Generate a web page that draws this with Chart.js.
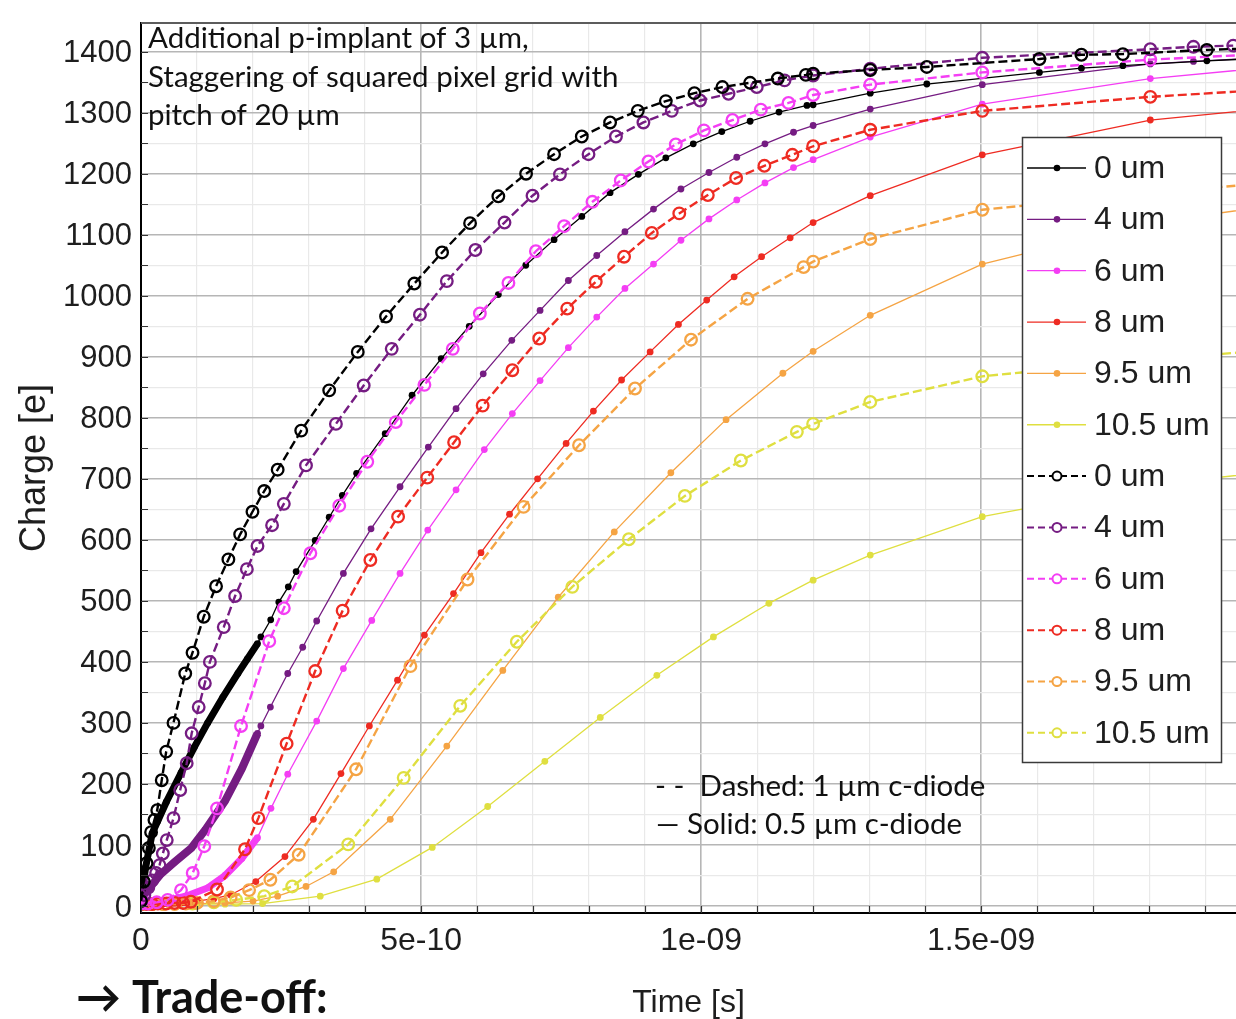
<!DOCTYPE html>
<html>
<head>
<meta charset="utf-8">
<script src="https://cdn.jsdelivr.net/npm/chart.js@4.4.1/dist/chart.umd.min.js"></script>
<style>
  html, body { margin: 0; padding: 0; background: #ffffff; overflow: hidden; }
  #wrap { position: relative; width: 1236px; height: 1019px; }
</style>
</head>
<body>
<div id="wrap"><canvas id="chart"></canvas></div>
<script>
// Collected charge vs. time. Times are in ns (axis labels are shown in seconds), charge in e.
// Solid: 0.5 um c-diode, dashed: 1 um c-diode; one curve per distance from the collection diode.

const seriesLabels = ['0 um', '4 um', '6 um', '8 um', '9.5 um', '10.5 um'];
const seriesColors = ['#000000', '#751c82', '#f43ef4', '#ee2b22', '#f5a444', '#dfdf40'];

// ---- solid curves (0.5 um c-diode) ----
const tSolid0 = [0, 0.008, 0.02, 0.045, 0.0714, 0.095, 0.119, 0.146, 0.173, 0.19, 0.208, 0.214, 0.2316, 0.246, 0.263, 0.277, 0.311, 0.336, 0.3595, 0.385, 0.436, 0.484, 0.536, 0.586, 0.638, 0.687, 0.7375, 0.787, 0.8375, 0.888, 0.937, 0.986, 1.037, 1.0875, 1.139, 1.189, 1.2, 1.302, 1.403, 1.604, 1.679, 1.753, 1.903, 2.0];
const qSolid0 = [10, 62, 119, 170, 218, 260, 300, 342, 381, 405, 430, 441, 469, 498, 523, 548, 599, 637, 673, 709, 774, 837, 897, 950, 1002, 1050, 1092, 1130, 1169, 1199, 1226, 1249, 1269, 1286, 1301, 1312, 1313, 1332, 1347, 1366, 1373, 1377, 1385, 1389];

const tSolid4 = [0, 0.02, 0.035, 0.06, 0.09, 0.115, 0.15, 0.18, 0.208, 0.214, 0.231, 0.262, 0.2887, 0.3137, 0.3613, 0.4107, 0.4625, 0.513, 0.5625, 0.611, 0.662, 0.7125, 0.763, 0.8137, 0.864, 0.915, 0.964, 1.014, 1.0637, 1.114, 1.165, 1.2, 1.302, 1.502, 1.802, 1.879, 2.0];
const qSolid4 = [12, 35, 52, 72, 95, 125, 172, 225, 283, 295, 326, 381, 424, 467, 545, 618, 687, 752, 815, 872, 927, 976, 1025, 1066, 1105, 1142, 1175, 1202, 1227, 1249, 1268, 1279, 1306, 1346, 1380, 1384, 1390];

const tSolid6 = [0, 0.04, 0.08, 0.12, 0.15, 0.18, 0.208, 0.232, 0.262, 0.3137, 0.3613, 0.412, 0.4625, 0.512, 0.5625, 0.613, 0.663, 0.7125, 0.763, 0.8137, 0.864, 0.915, 0.964, 1.014, 1.0637, 1.114, 1.165, 1.2, 1.302, 1.502, 1.802, 2.0];
const qSolid6 = [3, 8, 16, 30, 50, 78, 112, 160, 216, 303, 389, 468, 545, 616, 682, 748, 807, 861, 915, 965, 1012, 1052, 1091, 1126, 1157, 1185, 1210, 1223, 1260, 1314, 1356, 1373];

const tSolid8 = [0, 0.02, 0.04, 0.06, 0.08, 0.1, 0.13, 0.16, 0.205, 0.257, 0.3077, 0.357, 0.4077, 0.458, 0.506, 0.558, 0.607, 0.658, 0.708, 0.759, 0.8077, 0.858, 0.909, 0.9595, 1.01, 1.059, 1.108, 1.159, 1.2, 1.302, 1.502, 1.802, 2.0];
const qSolid8 = [3, 4, 4, 5, 6, 8, 12, 18, 40, 81, 142, 217, 295, 370, 444, 512, 579, 642, 700, 758, 811, 862, 908, 953, 993, 1031, 1064, 1095, 1120, 1164, 1231, 1288, 1306];

const tSolid95 = [0, 0.05, 0.1, 0.15, 0.2, 0.244, 0.2946, 0.344, 0.445, 0.546, 0.646, 0.745, 0.845, 0.946, 1.0446, 1.146, 1.2, 1.302, 1.502, 1.802, 2.0];
const qSolid95 = [2, 3, 4, 5, 8, 16, 32, 56, 142, 262, 386, 506, 613, 710, 797, 873, 909, 968, 1052, 1120, 1145];

const tSolid105 = [0, 0.05, 0.1, 0.15, 0.217, 0.32, 0.421, 0.52, 0.619, 0.721, 0.82, 0.921, 1.022, 1.121, 1.2, 1.302, 1.502, 1.802, 2.0];
const qSolid105 = [2, 2, 3, 3, 4, 16, 44, 96, 163, 237, 309, 378, 441, 496, 534, 575, 638, 690, 710];

// ---- dashed curves (1 um c-diode) ----
const tDash0 = [0, 0.005, 0.01, 0.014, 0.018, 0.024, 0.029, 0.037, 0.045, 0.058, 0.079, 0.092, 0.112, 0.134, 0.156, 0.177, 0.199, 0.22, 0.244, 0.286, 0.336, 0.387, 0.4375, 0.488, 0.5375, 0.5875, 0.638, 0.6875, 0.7375, 0.787, 0.8375, 0.887, 0.937, 0.988, 1.038, 1.0875, 1.137, 1.187, 1.2, 1.302, 1.403, 1.604, 1.679, 1.753, 1.903, 2.0];
const qDash0 = [8, 40, 70, 95, 121, 141, 157, 206, 253, 300, 381, 415, 474, 524, 568, 609, 646, 680, 715, 779, 845, 908, 966, 1020, 1071, 1119, 1163, 1200, 1232, 1261, 1284, 1303, 1319, 1332, 1342, 1349, 1356, 1362, 1364, 1370, 1375, 1388, 1395, 1396, 1403, 1406];

const tDash4 = [0, 0.006, 0.013, 0.02, 0.027, 0.033, 0.039, 0.046, 0.058, 0.07, 0.0816, 0.0905, 0.103, 0.114, 0.123, 0.1477, 0.168, 0.189, 0.208, 0.234, 0.255, 0.2946, 0.348, 0.3976, 0.4476, 0.498, 0.546, 0.597, 0.649, 0.699, 0.748, 0.799, 0.848, 0.897, 0.9476, 0.998, 1.049, 1.0994, 1.149, 1.2, 1.302, 1.502, 1.802, 1.879, 1.95];
const qDash4 = [10, 18, 30, 42, 54, 67, 86, 108, 144, 190, 234, 283, 326, 365, 400, 457, 508, 552, 590, 624, 659, 722, 790, 853, 913, 969, 1024, 1075, 1120, 1164, 1199, 1232, 1261, 1284, 1303, 1320, 1331, 1342, 1353, 1361, 1372, 1390, 1404, 1408, 1410];

const tDash6 = [0, 0.012, 0.028, 0.0476, 0.0714, 0.0923, 0.113, 0.1357, 0.1786, 0.229, 0.255, 0.3024, 0.354, 0.404, 0.4548, 0.506, 0.5566, 0.605, 0.656, 0.705, 0.7554, 0.806, 0.8566, 0.906, 0.9548, 1.005, 1.056, 1.1066, 1.156, 1.2, 1.302, 1.502, 1.802, 2.0];
const qDash6 = [4, 4, 6, 10, 26, 54, 98, 160, 295, 434, 488, 578, 656, 728, 793, 854, 913, 971, 1021, 1073, 1114, 1154, 1189, 1220, 1248, 1271, 1288, 1305, 1316, 1329, 1346, 1366, 1387, 1396];

const tDash8 = [0, 0.01, 0.02, 0.03, 0.045, 0.06, 0.075, 0.089, 0.1357, 0.1857, 0.2095, 0.26, 0.311, 0.36, 0.4095, 0.459, 0.511, 0.559, 0.61, 0.663, 0.711, 0.761, 0.812, 0.8625, 0.912, 0.961, 1.012, 1.0625, 1.113, 1.163, 1.2, 1.302, 1.502, 1.802, 2.0];
const qDash8 = [3, 3, 3, 4, 4, 5, 5, 7, 27, 93, 144, 266, 385, 484, 567, 638, 702, 760, 820, 878, 930, 979, 1023, 1064, 1103, 1135, 1165, 1193, 1213, 1231, 1245, 1272, 1303, 1326, 1337];

const tDash95 = [0, 0.02, 0.04, 0.06, 0.08, 0.1, 0.13, 0.16, 0.193, 0.231, 0.2815, 0.384, 0.481, 0.583, 0.683, 0.782, 0.882, 0.982, 1.083, 1.183, 1.2, 1.302, 1.502, 1.802, 2.0];
const qDash95 = [3, 3, 3, 3, 4, 5, 8, 14, 26, 43, 84, 224, 393, 535, 654, 755, 848, 928, 995, 1047, 1056, 1093, 1141, 1168, 1184];

const tDash105 = [0, 0.02, 0.04, 0.06, 0.092, 0.13, 0.17, 0.22, 0.27, 0.37, 0.469, 0.57, 0.671, 0.77, 0.871, 0.971, 1.071, 1.171, 1.2, 1.302, 1.502, 1.802, 2.0];
const qDash105 = [3, 3, 3, 4, 4, 6, 10, 16, 32, 101, 210, 328, 433, 523, 601, 672, 730, 777, 790, 826, 868, 895, 910];

// Densely sampled start of some solid curves: the markers merge into a thick stroke up to this time (ns)
const denseUntil = [0.208, 0.208, 0.208, 0.1, null, null];

// Axis ranges and tick steps (x in ns)
const xMin = 0, xMax = 1.955, xStep = 0.1, xMajor = 0.5;
const yMin = -11.5, yMax = 1447, yStep = 50, yMajor = 100;

const solidTimes = [tSolid0, tSolid4, tSolid6, tSolid8, tSolid95, tSolid105];
const solidCharges = [qSolid0, qSolid4, qSolid6, qSolid8, qSolid95, qSolid105];
const dashTimes = [tDash0, tDash4, tDash6, tDash8, tDash95, tDash105];
const dashCharges = [qDash0, qDash4, qDash6, qDash8, qDash95, qDash105];

function toPoints(t, q) { return t.map((x, i) => ({ x, y: q[i] })); }

const datasets = [];
seriesLabels.forEach((lab, i) => {
  const dense = denseUntil[i];
  const thick = i === 1 ? 8 : 7;
  datasets.push({
    label: lab,
    data: toPoints(solidTimes[i], solidCharges[i]),
    borderColor: seriesColors[i],
    backgroundColor: seriesColors[i],
    borderWidth: 1.3,
    pointRadius: 3.4,
    pointBorderWidth: 0,
    pointBackgroundColor: seriesColors[i],
    pointStyle: 'circle',
    tension: 0,
    order: 1,
    segment: {
      borderWidth: ctx => (dense !== null && ctx.p1.parsed.x <= dense + 1e-9) ? thick : undefined
    }
  });
});
seriesLabels.forEach((lab, i) => {
  datasets.push({
    label: lab,
    data: toPoints(dashTimes[i], dashCharges[i]),
    borderColor: seriesColors[i],
    backgroundColor: 'rgba(255,255,255,0)',
    borderWidth: 2.4,
    borderDash: [9, 4],
    pointRadius: 5.8,
    pointBorderWidth: 2.3,
    pointBorderColor: seriesColors[i],
    pointBackgroundColor: 'rgba(255,255,255,0)',
    pointStyle: 'circle',
    tension: 0,
    order: 0
  });
});

const isMultiple = (v, m) => Math.abs(v / m - Math.round(v / m)) < 1e-6;
// axis value in ns -> label in seconds, e.g. 1.5 -> "1.5e-09"
function secondsLabel(ns) {
  const v = Number(ns.toFixed(6));
  if (v === 0) return '0';
  const [mant, exp] = (v * 1e-9).toExponential(4).split('e');
  const m = mant.replace(/\.?0+$/, '');
  const e = parseInt(exp, 10);
  const ea = String(Math.abs(e)).padStart(2, '0');
  return m + 'e' + (e < 0 ? '-' : '+') + ea;
}

const TICK_FONT = '"Liberation Sans", Arial, sans-serif';
const NOTE_FONT = 'Lato, "Open Sans", sans-serif';

const decor = {
  id: 'decor',
  afterDraw(chart) {
    const { ctx, chartArea: a, scales } = chart;
    const xs = scales.x, ys = scales.y;
    ctx.save();

    // frame line along the top of the plot
    ctx.strokeStyle = '#5c5c5c';
    ctx.lineWidth = 2;
    ctx.beginPath();
    ctx.moveTo(a.left, a.top);
    ctx.lineTo(a.right, a.top);
    ctx.stroke();

    // inward tick marks
    ctx.strokeStyle = '#333333';
    ctx.lineWidth = 1.2;
    ctx.beginPath();
    xs.ticks.forEach(t => {
      if (!isMultiple(t.value, xStep)) return;
      const px = Math.round(xs.getPixelForValue(t.value)) + 0.5;
      ctx.moveTo(px, a.bottom);
      ctx.lineTo(px, a.bottom - 7);
    });
    ys.ticks.forEach(t => {
      if (!isMultiple(t.value, yStep)) return;
      const py = Math.round(ys.getPixelForValue(t.value)) + 0.5;
      ctx.moveTo(a.left, py);
      ctx.lineTo(a.left + 7, py);
    });
    ctx.stroke();

    // legend box
    const lw = 199, lh = 625;
    const lx = a.right - 214, ly = a.top + 114;
    ctx.fillStyle = '#ffffff';
    ctx.fillRect(lx, ly, lw, lh);
    ctx.strokeStyle = '#3a3a3a';
    ctx.lineWidth = 1.5;
    ctx.strokeRect(lx + 0.5, ly + 0.5, lw, lh);
    const rowH = 51.35;
    chart.data.datasets.forEach((ds, i) => {
      const cy = ly + 31 + i * rowH;
      ctx.strokeStyle = ds.borderColor;
      ctx.lineWidth = ds.borderDash ? 2 : 1.3;
      ctx.setLineDash(ds.borderDash ? [7, 4] : []);
      ctx.beginPath();
      ctx.moveTo(lx + 5, cy);
      ctx.lineTo(lx + 64, cy);
      ctx.stroke();
      ctx.setLineDash([]);
      if (ds.borderDash) {
        ctx.fillStyle = '#ffffff';
        ctx.strokeStyle = ds.borderColor;
        Chart.helpers.drawPoint(ctx, { pointStyle: 'circle', radius: 4.5, borderWidth: 2 }, lx + 35, cy);
      } else {
        ctx.fillStyle = ds.borderColor;
        Chart.helpers.drawPoint(ctx, { pointStyle: 'circle', radius: 3.3, borderWidth: 0 }, lx + 35, cy);
      }
      ctx.fillStyle = '#1e1e1e';
      ctx.font = '32px ' + TICK_FONT;
      ctx.textBaseline = 'middle';
      ctx.textAlign = 'left';
      ctx.fillText(ds.label, lx + 72, cy + 1);
    });

    // notes
    ctx.fillStyle = '#111111';
    ctx.textBaseline = 'alphabetic';
    ctx.textAlign = 'left';
    ctx.font = '29.5px ' + NOTE_FONT;
    ctx.fillText('Additional p-implant of 3 \u00b5m,', a.left + 7, 48);
    ctx.fillText('Staggering of squared pixel grid with', a.left + 7, 87);
    ctx.fillText('pitch of 20 \u00b5m', a.left + 7, 125);
    ctx.fillText('- -  Dashed: 1 \u00b5m c-diode', 655, 796);
    ctx.fillText('\u2014 Solid: 0.5 \u00b5m c-diode', 656, 834);

    ctx.font = 'bold 45px ' + NOTE_FONT;
    ctx.fillText('\u2192 Trade-off:', 76, 1013);

    ctx.restore();
  }
};

new Chart(document.getElementById('chart'), {
  type: 'line',
  data: { datasets },
  plugins: [decor],
  options: {
    responsive: true,
    maintainAspectRatio: false,
    animation: false,
    events: [],
    layout: { autoPadding: false, padding: { top: 23, right: 0, left: 0, bottom: 0 } },
    plugins: { legend: { display: false }, tooltip: { enabled: false } },
    scales: {
      x: {
        type: 'linear',
        min: xMin,
        max: xMax,
        afterFit: s => { s.height = 106; s.paddingLeft = 0; s.paddingRight = 0; },
        grid: {
          drawTicks: false,
          color: c => isMultiple(c.tick.value, xMajor) ? '#b6b6b6' : (isMultiple(c.tick.value, xStep) ? '#e9e9e9' : 'rgba(0,0,0,0)'),
          lineWidth: c => isMultiple(c.tick.value, xMajor) ? 1.6 : 1.2
        },
        border: { display: true, color: '#000000', width: 2 },
        ticks: {
          stepSize: xStep,
          includeBounds: false,
          autoSkip: false,
          maxRotation: 0,
          padding: 9,
          color: '#1e1e1e',
          font: { family: TICK_FONT, size: 32 },
          callback: v => isMultiple(v, xMajor) ? secondsLabel(v) : ''
        },
        title: {
          display: true,
          text: 'Time [s]',
          color: '#1e1e1e',
          font: { family: TICK_FONT, size: 32, lineHeight: 1 },
          padding: { top: 0, bottom: 0 }
        }
      },
      y: {
        type: 'linear',
        min: yMin,
        max: yMax,
        afterFit: s => { s.width = 141; s.paddingTop = 0; s.paddingBottom = 0; },
        grid: {
          drawTicks: false,
          color: c => isMultiple(c.tick.value, yMajor) ? '#b6b6b6' : (isMultiple(c.tick.value, yStep) ? '#e9e9e9' : 'rgba(0,0,0,0)'),
          lineWidth: c => isMultiple(c.tick.value, yMajor) ? 1.6 : 1.2
        },
        border: { display: true, color: '#000000', width: 2 },
        ticks: {
          stepSize: yStep,
          includeBounds: false,
          autoSkip: false,
          padding: 9,
          labelOffset: 2,
          color: '#1e1e1e',
          font: { family: TICK_FONT, size: 31 },
          callback: v => isMultiple(v, yMajor) ? String(Math.round(v)) : ''
        },
        title: {
          display: true,
          text: 'Charge [e]',
          color: '#1e1e1e',
          font: { family: TICK_FONT, size: 36 },
          padding: { top: 13, bottom: 0 }
        }
      }
    }
  }
});
</script>
</body>
</html>
